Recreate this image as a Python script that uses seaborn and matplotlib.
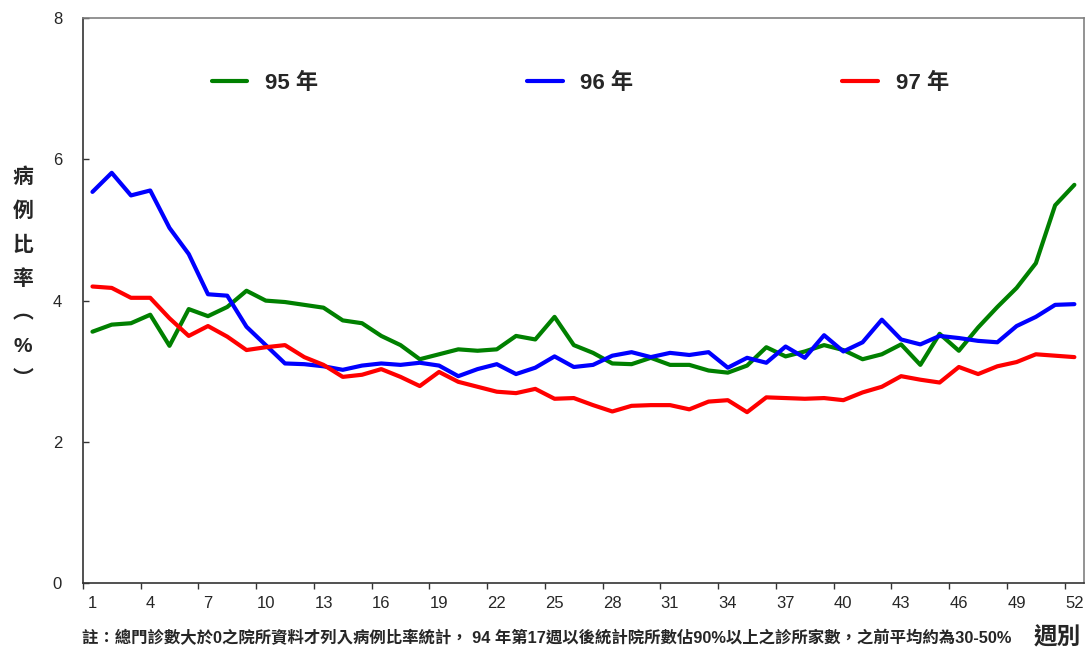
import numpy as np
import pandas as pd
import matplotlib
matplotlib.use('Agg')
import matplotlib.pyplot as plt
import seaborn as sns

# weekly case ratio (%)
weeks = list(range(1, 53))
y95 = [3.56, 3.66, 3.68, 3.80, 3.36, 3.88, 3.78, 3.91, 4.14, 4.00,
       3.98, 3.94, 3.90, 3.72, 3.68, 3.50, 3.37, 3.17, 3.24, 3.31,
       3.29, 3.31, 3.50, 3.45, 3.77, 3.37, 3.26, 3.11, 3.10, 3.19,
       3.09, 3.09, 3.01, 2.98, 3.08, 3.34, 3.21, 3.28, 3.37, 3.30,
       3.17, 3.24, 3.38, 3.09, 3.53, 3.29, 3.62, 3.91, 4.18, 4.53,
       5.35, 5.64]
y96 = [5.54, 5.81, 5.49, 5.56, 5.03, 4.66, 4.09, 4.07, 3.63, 3.37,
       3.11, 3.10, 3.07, 3.02, 3.08, 3.11, 3.09, 3.12, 3.08, 2.93,
       3.03, 3.10, 2.96, 3.05, 3.21, 3.06, 3.09, 3.22, 3.27, 3.20,
       3.26, 3.23, 3.27, 3.05, 3.19, 3.12, 3.35, 3.19, 3.51, 3.28,
       3.41, 3.73, 3.45, 3.38, 3.50, 3.47, 3.43, 3.41, 3.64, 3.77,
       3.94, 3.95]
y97 = [4.20, 4.18, 4.04, 4.04, 3.75, 3.50, 3.64, 3.49, 3.30, 3.34,
       3.37, 3.20, 3.09, 2.92, 2.95, 3.03, 2.92, 2.79, 2.99, 2.85,
       2.78, 2.71, 2.69, 2.75, 2.61, 2.62, 2.52, 2.43, 2.51, 2.52,
       2.52, 2.46, 2.57, 2.59, 2.42, 2.63, 2.62, 2.61, 2.62, 2.59,
       2.70, 2.78, 2.93, 2.88, 2.84, 3.06, 2.96, 3.07, 3.13, 3.24,
       3.22, 3.20]
years = ['95 年', '96 年', '97 年']
colors = ['#008000', '#0000FF', '#FF0000']
xticks = list(range(1, 53, 3))
yticks = [0, 2, 4, 6, 8]

df = pd.DataFrame({'week': weeks * 3,
                   'ratio': y95 + y96 + y97,
                   'year': np.repeat(years, len(weeks))})

sns.set_style('white')
plt.rcParams['font.family'] = ['Liberation Sans', 'Noto Sans CJK TC']

fig = plt.figure(figsize=(10.9, 6.5), dpi=100)
ax = fig.add_axes([0.076, 0.103, 0.9185, 0.869])
sns.lineplot(data=df, x='week', y='ratio', hue='year', palette=colors,
             linewidth=3, ax=ax)

ax.set_xlim(0.5, 52.5)
ax.set_ylim(0, 8)
ax.set_xticks(xticks)
ax.set_xticks(np.arange(0.5, 52, 3), minor=True)
ax.set_yticks(yticks)
ax.tick_params(axis='x', which='major', length=0, pad=9, labelsize=12)
ax.tick_params(axis='x', which='minor', direction='out', length=4,
               width=1, color='#333333', bottom=True)
ax.tick_params(axis='y', direction='in', length=4, width=1,
               color='#333333', pad=15, labelsize=12, left=True)
ax.set_xlabel('')
ax.set_ylabel('')

for s in ['top', 'right']:
    ax.spines[s].set_color('#808080')
    ax.spines[s].set_linewidth(1.2)
for s in ['left', 'bottom']:
    ax.spines[s].set_color('#333333')
    ax.spines[s].set_linewidth(1.2)

sns.move_legend(ax, 'center', bbox_to_anchor=(0.497, 0.885), ncol=3,
                frameon=False, title=None, handlelength=1.6,
                handletextpad=0.8, columnspacing=9.4,
                prop={'weight': 'bold', 'size': 16})

fig.text(0.021, 0.572, '\n'.join('病例比率︵%︶'), ha='center', va='center',
         fontsize=15, fontweight='bold', linespacing=1.95)
fig.text(0.075, 0.018,
         '註：總門診數大於0之院所資料才列入病例比率統計， 94 年第17週以後統計院所數佔90%以上之診所家數，之前平均約為30-50%',
         ha='left', va='center', fontsize=11.8, fontweight='bold')
fig.text(0.992, 0.018, '週別', ha='right', va='center', fontsize=17,
         fontweight='bold')

fig.savefig('out.png', dpi=100)
